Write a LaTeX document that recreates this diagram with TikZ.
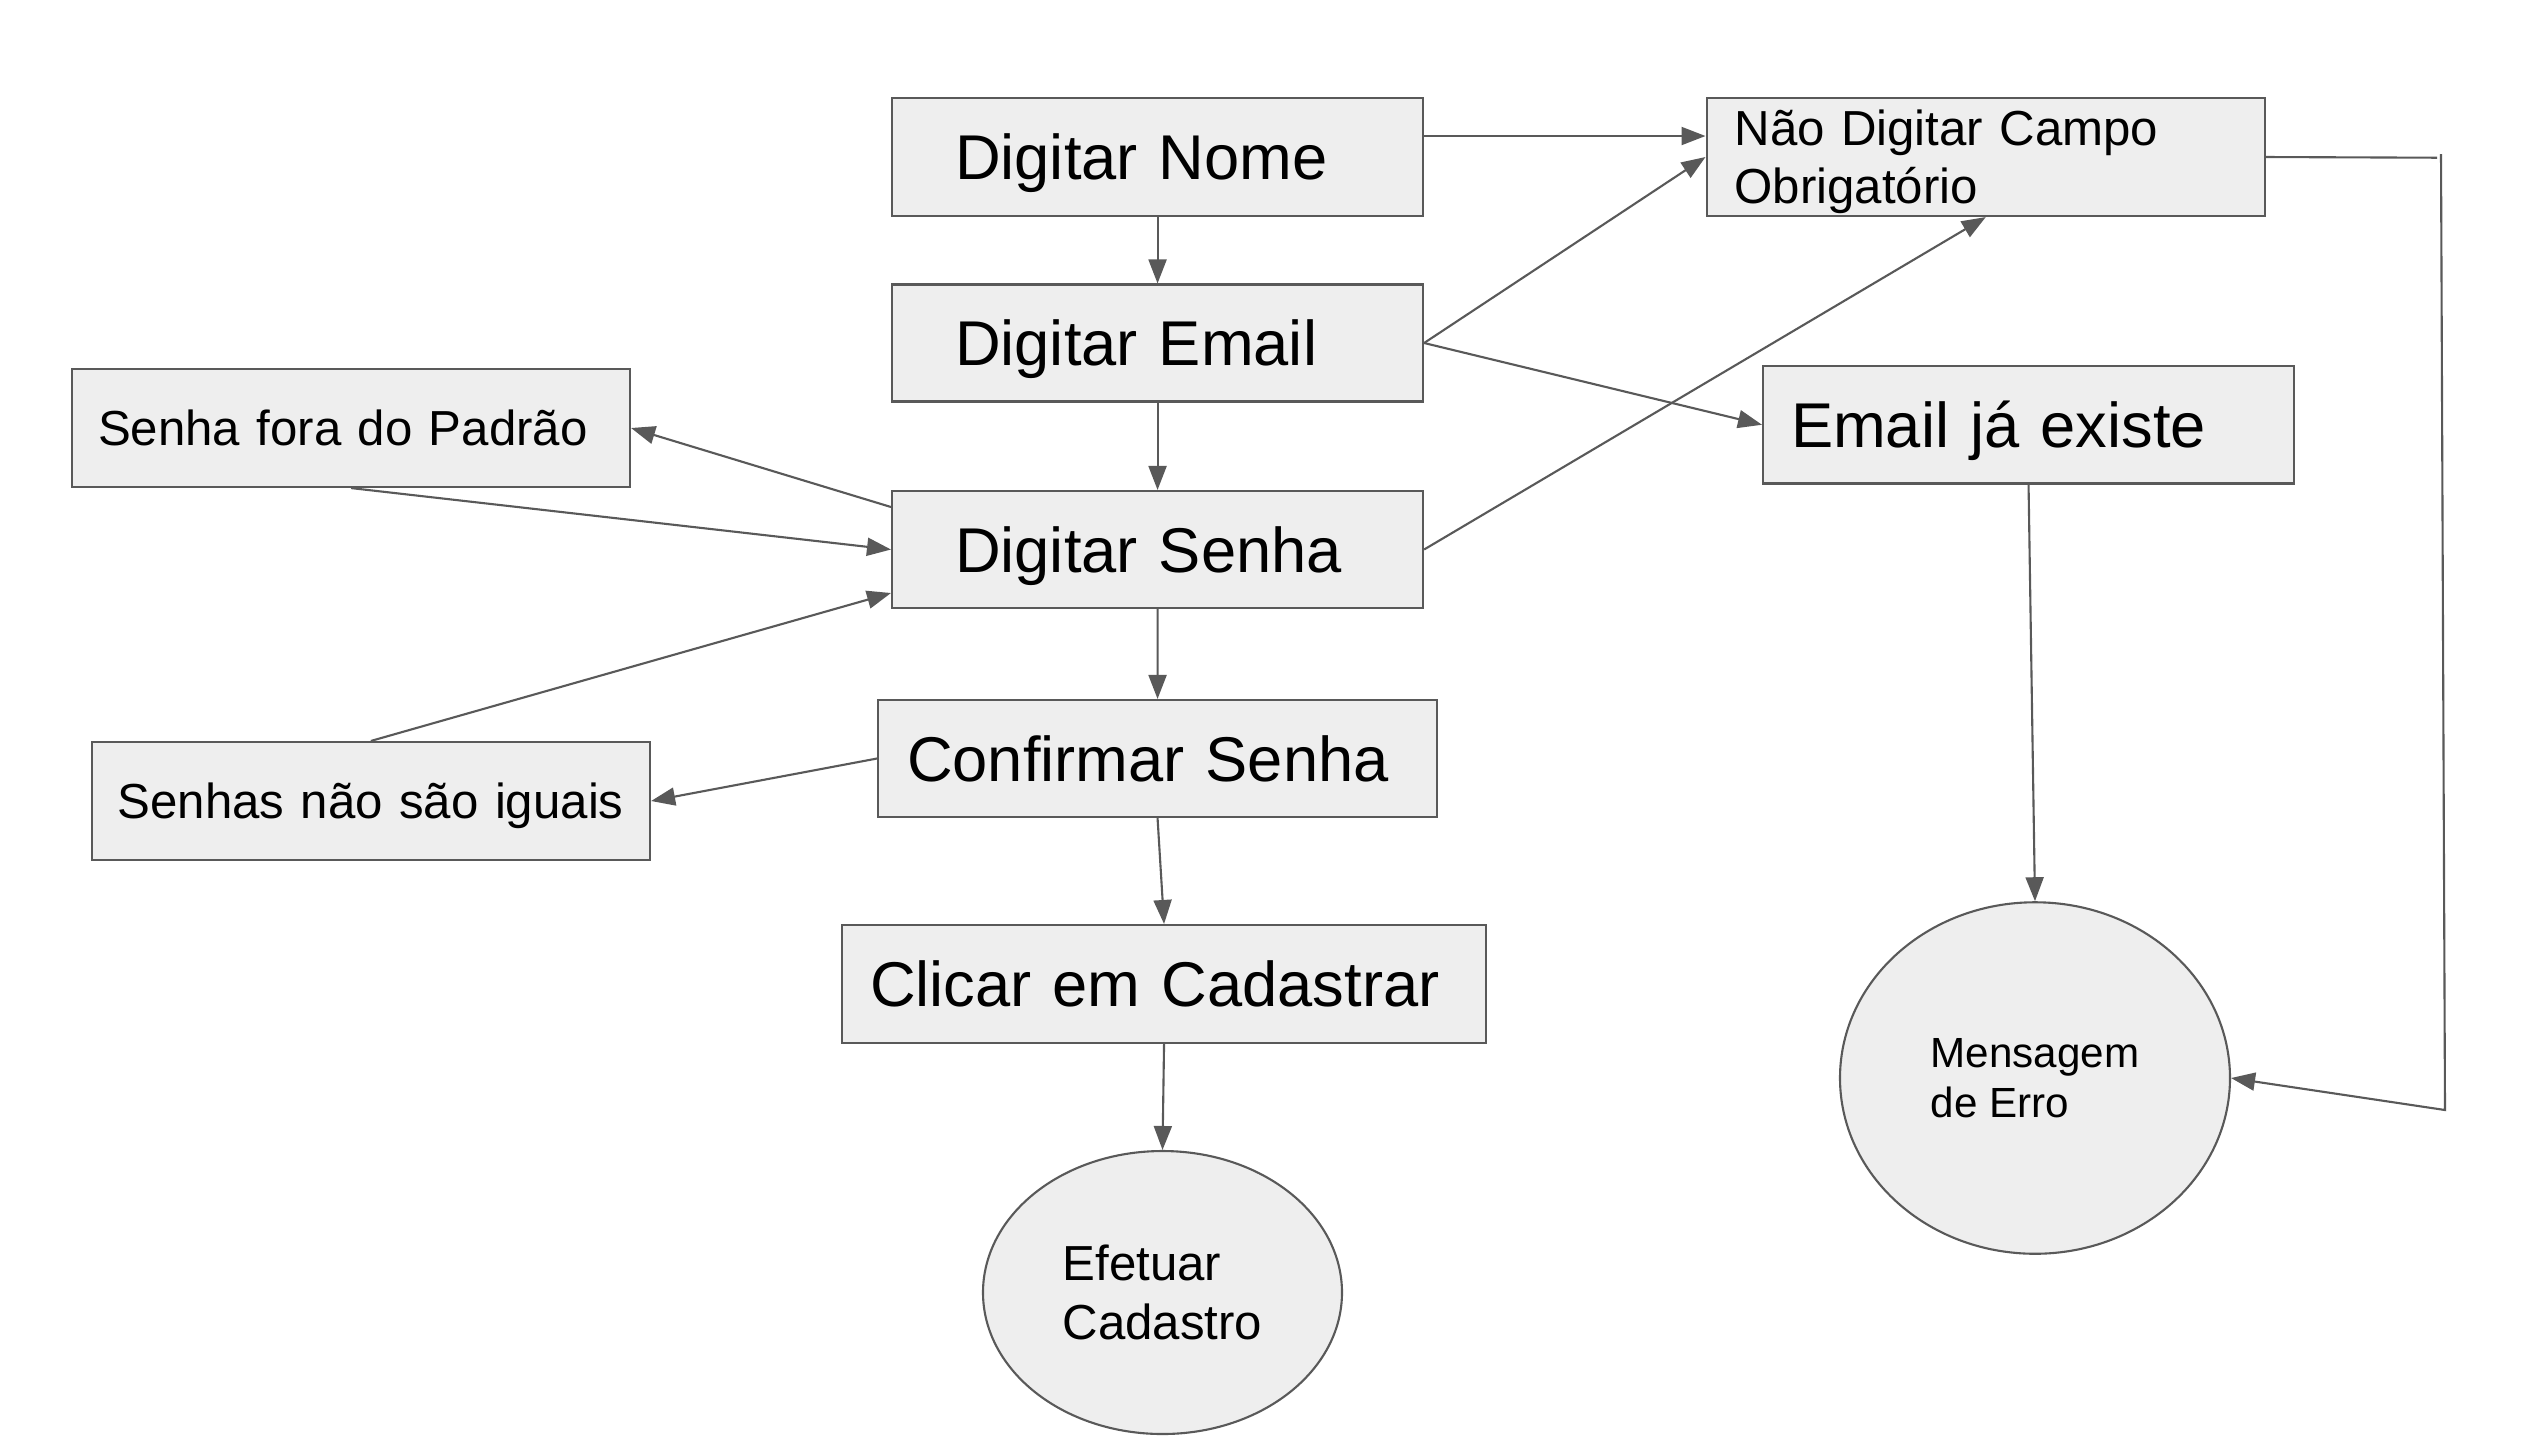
\documentclass[tikz,border=0pt]{standalone}
\usepackage{fontspec}
\setmainfont{Liberation Sans}
\usetikzlibrary{shapes.geometric,arrows.meta}
\definecolor{cinza}{HTML}{595959}
\definecolor{cinzaclaro}{HTML}{EEEEEE}
\pgfdeclarelayer{bg}
\pgfsetlayers{bg,main}

\begin{document}
\begin{tikzpicture}[
        caixa/.style={shape=rectangle, draw=cinza, fill=cinzaclaro, line width=0.6pt, anchor=west, align=left, inner ysep=0pt},
        bola/.style={shape=ellipse, draw=cinza, fill=cinzaclaro, line width=0.6pt, inner sep=0pt, align=left},
        grande/.style={font=\fontsize{18}{21.6}\selectfont, text height=12.9pt, text depth=0pt},
        media/.style={font=\fontsize{14}{16.4}\selectfont, text height=10pt, text depth=0pt},
        seta/.style={draw=cinza, line width=0.6pt, -{Triangle[length=0.24cm,width=0.18cm]}},
        fio/.style={draw=cinza, line width=0.6pt}]
        \useasboundingbox (0cm, 0cm) rectangle (25.360000cm, -14.360000cm);

        \node (nome) [caixa, grande, inner xsep=0.63cm, text width=4.05cm, minimum height=1.18cm] at (8.910000cm, -1.570000cm) {Digitar Nome};
        \node (email) [caixa, grande, inner xsep=0.63cm, text width=4.05cm, minimum height=1.17cm] at (8.910000cm, -3.430000cm) {Digitar Email};
        \node (senha) [caixa, grande, inner xsep=0.63cm, text width=4.05cm, minimum height=1.17cm] at (8.910000cm, -5.495000cm) {Digitar Senha};
        \node (confirmar) [caixa, grande, inner xsep=0.29cm, text width=5.01cm, minimum height=1.17cm] at (8.770000cm, -7.585000cm) {Confirmar Senha};
        \node (clicar) [caixa, grande, inner xsep=0.28cm, text width=5.88cm, minimum height=1.18cm] at (8.410000cm, -9.840000cm) {Clicar em Cadastrar};
        \node (efetuar) [bola, font=\fontsize{14}{16.9}\selectfont, minimum width=3.59cm, minimum height=2.83cm] at (11.625000cm, -12.925000cm) {Efetuar\\Cadastro};

        \node (padrao) [caixa, media, inner xsep=0.26cm, text width=5.06cm, minimum height=1.18cm] at (0.710000cm, -4.280000cm) {Senha fora do Padrão};
        \node (iguais) [caixa, media, inner xsep=0.26cm, text width=5.064cm, minimum height=1.18cm] at (0.906000cm, -8.010000cm) {Senhas não são iguais};

        \node (campo) [caixa, media, text depth=16.4pt, inner xsep=0.28cm, text width=5.025cm, minimum height=1.18cm] at (17.055000cm, -1.570000cm) {Não Digitar Campo\\Obrigatório};
        \node (existe) [caixa, grande, inner xsep=0.28cm, text width=4.75cm, minimum height=1.175cm] at (17.620000cm, -4.247500cm) {Email já existe};
        \node (erro) [bola, font=\fontsize{12}{14.4}\selectfont, minimum width=3.90cm, minimum height=3.515cm] at (20.350000cm, -10.780000cm) {Mensagem\\de Erro};

        \coordinate (c1) at (24.370000cm, -1.577000cm);
        \coordinate (c2) at (24.410000cm, -1.540000cm);
        \coordinate (c3) at (24.450000cm, -11.100000cm);

        \begin{pgfonlayer}{bg}
                \draw (nome.south) edge [seta] (email.north);
                \draw (email.south) edge [seta] (senha.north);
                \draw (senha.south) edge [seta] (confirmar.north);
                \draw (confirmar.south) edge [seta] (clicar.north);
                \draw (clicar.south) edge [seta] (efetuar.north);
                \draw ([yshift=0.21cm]nome.east) edge [seta] ([yshift=0.21cm]campo.west);
                \draw (email.east) edge [seta] (campo.west);
                \draw (email.east) edge [seta] (existe.west);
                \draw (senha.east) edge [seta] (campo.south);
                \draw ([yshift=0.425cm]senha.west) edge [seta] (padrao.east);
                \draw (padrao.south) edge [seta] (senha.west);
                \draw (iguais.north) edge [seta] ([yshift=-0.435cm]senha.west);
                \draw (confirmar.west) edge [seta] (iguais.east);
                \draw (existe.south) edge [seta] (erro.north);
                \draw [fio] (campo.east) -- (c1);
                \draw [seta] (c2) -- (c3) -- (erro.east);
        \end{pgfonlayer}
\end{tikzpicture}
\end{document}
